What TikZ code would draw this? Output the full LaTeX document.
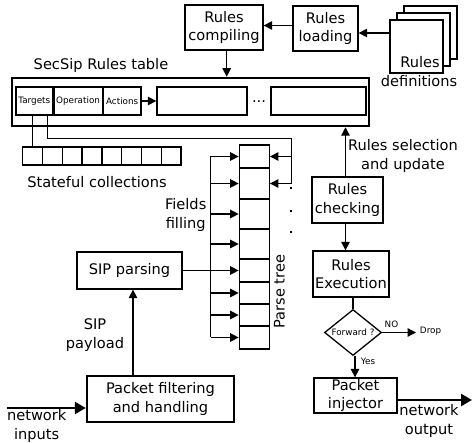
\documentclass[tikz,border=0pt]{standalone}
\usepackage{fontspec}
\setmainfont{DejaVu Sans}
\usetikzlibrary{arrows.meta,shapes.geometric}

\tikzset{
  box/.style={draw,align=center,inner sep=0pt},
  cell/.style={draw,inner sep=0pt},
  arr/.style={-{Triangle[length=8.5pt,width=8.5pt]}},
  bigarr/.style={line width=2.5pt,-{Triangle[length=11pt,width=12pt]}},
  tiny/.style={font=\fontsize{8.8}{10}\selectfont},
}

\begin{document}
\begin{tikzpicture}[x=1pt,y=-1pt,line width=1.3pt,font=\fontsize{14.6}{18.5}\selectfont]
\useasboundingbox (0,0) rectangle (472,443);
\node[box,minimum width=78pt,minimum height=45pt] (compile) at (224,27.5) {Rules\\compiling};
\node[box,minimum width=65pt,minimum height=45pt] (load) at (325.5,28.5) {Rules\\loading};
\foreach \d in {14,7}
\draw[fill=white] ({390+\d},{20-\d}) rectangle ({443+\d},{73-\d});
\node[box,fill=white,minimum width=53pt,minimum height=53pt] (defs) at (416.5,46.5) {};
\node[anchor=base,inner sep=0pt] (defstext) at (420,68) {Rules};
\node (defslabel) at (419,81.5) {definitions};
\draw[arr] ([yshift=13.5pt]defs.west) -- ([yshift=13.5pt]defs.west -| load.east);
\draw[arr] ([yshift=3pt]load.west) -- ([yshift=3pt]load.west -| compile.east);
\node[box,line width=2.5pt,minimum width=357pt,minimum height=48pt] (table) at (190.5,102) {};
\node (tabletitle) at (101,65) {SecSip Rules table};
\node[box,tiny,minimum width=36.7pt,minimum height=28pt] (targets) at (34.3,101) {Targets};
\node[box,tiny,minimum width=48.3pt,minimum height=28pt,anchor=west] (operation) at (targets.east) {Operation};
\node[box,tiny,minimum width=37.3pt,minimum height=28pt,anchor=west] (actions) at (operation.east) {Actions};
\node[box,minimum width=90pt,minimum height=28pt] (rule1) at (202,101) {};
\node[anchor=base,inner sep=0pt] (ruledots) at (259,103) {...};
\node[box,minimum width=95pt,minimum height=28pt] (rulen) at (318.5,101) {};
\draw[arr] (actions.east) -- (rule1.west);
\draw[arr] ([xshift=2.7pt]compile.south) -- ([xshift=2.7pt]compile.south |- table.north);
\foreach \i in {1,...,8}
\node[cell,minimum width=19.8pt,minimum height=18pt] (coll\i) at ({22.7+19.8*(\i-0.5)},156) {};
\node (colllabel) at (97,182) {Stateful collections};
\draw ([xshift=-2pt]targets.south) -- ([xshift=-2pt]targets.south |- coll1.north);
\foreach \t/\b [count=\i] in {145/168,168/199,199/229,229/259,259/282,282/304,304/326,326/349}
\node[cell,minimum width=30pt,minimum height={\b-\t}] (tree\i) at (254.3,{(\t+\b)/2}) {};
\node[rotate=90] (treelabel) at (279.5,291.5) {Parse tree};
\coordinate (bus) at (210.7,0);
\draw (bus |- tree1.west) -- (bus |- tree8.west);
\foreach \i in {1,...,8}
\draw[arr] (bus |- tree\i.west) -- (tree\i.west);
\node[box,minimum width=105pt,minimum height=37pt] (sip) at (129.5,270.5) {SIP parsing};
\draw (sip.east) -- (bus |- sip.east);
\node[align=center] (fields) at (185.7,215) {Fields\\filling};
\coordinate (loop) at (291.7,138.3);
\draw ([xshift=13.4pt]targets.south) |- (loop) -- (loop |- tree2.east);
\draw[arr] (loop |- tree1.east) -- (tree1.east);
\draw[arr] (loop |- tree2.east) -- (tree2.east);
\foreach \y in {187,210,231}
\fill (290,\y) rectangle (292.2,{\y+2.2});
\node[box,minimum width=71pt,minimum height=46pt] (check) at (347.5,200) {Rules\\checking};
\draw[arr] ([xshift=-2pt]check.north) -- ([xshift=-2pt]check.north |- table.south);
\node[align=center] (select) at (403,156) {Rules selection\\and update};
\node[box,minimum width=76pt,minimum height=46pt] (exec) at (351,274) {Rules\\Execution};
\draw[arr] ([xshift=-2pt]check.south) -- ([xshift=-2pt]check.south |- exec.north);
\node[draw,diamond,tiny,aspect=1.24,inner sep=0pt,minimum width=57pt,minimum height=46pt] (fwd) at (353,332.5) {Forward ?};
\draw (fwd.north |- exec.south) -- (fwd.north);
\node[tiny,anchor=west] (drop) at (416,331) {Drop};
\draw[arr] (fwd.east) -- (fwd.east -| drop.west);
\node[tiny] (no) at (391.5,324) {NO};
\node[box,minimum width=83pt,minimum height=35pt] (inject) at (355.5,395.5) {Packet\\injector};
\draw[arr] ([xshift=2pt]fwd.south) -- ([xshift=2pt]fwd.south |- inject.north);
\node[tiny] (yes) at (368,361) {Yes};
\coordinate (out) at (472,400);
\draw[bigarr] (inject.east |- out) -- (out);
\node[align=center] (outlabel) at (429,421) {network\\output};
\node[box,line width=2.5pt,minimum width=147pt,minimum height=46pt] (filter) at (160.5,399) {Packet filtering\\and handling};
\coordinate (in) at (6.7,408);
\draw[bigarr] (in) -- (in -| filter.west);
\node[align=center,inner sep=0pt] (inlabel) at (36.7,426) {network\\inputs};
\draw[arr] ([xshift=3.5pt]sip.south |- filter.north) -- ([xshift=3.5pt]sip.south);
\node[align=center] (payload) at (95,335) {SIP\\payload};
\end{tikzpicture}
\end{document}
